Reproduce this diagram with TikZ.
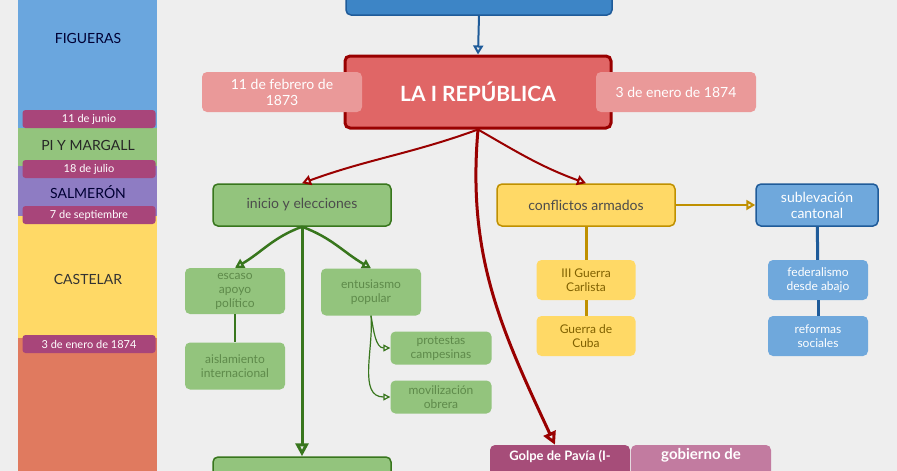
\documentclass[tikz,border=0pt]{standalone}
\usepackage{fontspec}
\setmainfont{Lato}
\usetikzlibrary{arrows.meta}
\definecolor{bg}{HTML}{EEEEEE}
\definecolor{pill}{HTML}{A8457A}
\definecolor{redf}{HTML}{E06666}
\definecolor{redd}{HTML}{990000}
\definecolor{pink}{HTML}{EA9999}
\definecolor{gf}{HTML}{93C47D}
\definecolor{gd}{HTML}{38761D}
\definecolor{gt}{HTML}{5E8A4A}
\definecolor{yf}{HTML}{FFD966}
\definecolor{yd}{HTML}{BF9000}
\definecolor{yt}{HTML}{7F6000}
\definecolor{bf}{HTML}{6FA8DC}
\definecolor{bd}{HTML}{1F5B99}
\definecolor{colblue}{HTML}{6AA6DE}
\definecolor{colpurp}{HTML}{8E7CC3}
\definecolor{colorr}{HTML}{E07A5F}
\definecolor{topb}{HTML}{3D85C6}
\definecolor{golc}{HTML}{A64D79}
\definecolor{gobc}{HTML}{C27BA0}
\begin{document}
\begin{tikzpicture}[x=1pt,y=-1pt,
 box/.style={rounded corners=5pt,inner sep=0pt,align=center},
 tri/.style={-{Triangle[open,length=9pt,width=10pt]}},
 trib/.style={-{Triangle[open,length=13pt,width=13pt]}},
 tris/.style={-{Triangle[open,length=7pt,width=7pt]}}]
\fill[bg] (0,0) rectangle (897,471);
\useasboundingbox (0,0) rectangle (897,471);
% left column
\fill[colblue] (18,0) rectangle (157,128);
\fill[gf] (18,128) rectangle (157,166);
\fill[colpurp] (18,166) rectangle (157,216);
\fill[yf] (18,216) rectangle (157,338);
\fill[colorr] (18,338) rectangle (157,471);
\node (fig) at (88,38) {\fontsize{14}{16}\selectfont\color{black!80!blue}FIGUERAS};
\node (pim) at (88,145) {\fontsize{14}{16}\selectfont\color{black!85}PI Y MARGALL};
\node (sal) at (88,192) {\fontsize{14}{16}\selectfont\color{black!80!blue}SALMERÓN};
\node (cas) at (88,279) {\fontsize{14}{16}\selectfont\color{black!80}CASTELAR};
\foreach \n/\y/\t in {p1/119/11 de junio,p2/169/18 de julio,p3/215/7 de septiembre,p4/344/3 de enero de 1874}
 \node[fill=pill,rounded corners=3pt,minimum width=133pt,minimum height=18pt,inner sep=0pt,text=white,font=\fontsize{11}{12}\selectfont] (\n) at (89,\y) {\t};
% top
\node[box,fill=topb,draw=bd,line width=1.5pt,minimum width=266pt,minimum height=30pt] (top) at (479,0) {};
\node[box,fill=redf,draw=redd,line width=3pt,minimum width=266pt,minimum height=72pt,text=white,font=\fontsize{21}{24}\selectfont\bfseries] (main) at (478,92) {LA I REPÚBLICA};
\node[box,fill=pink,minimum width=160pt,minimum height=40pt,text=white,font=\fontsize{14}{16}\selectfont] (d1) at (282,92) {11 de febrero de\\1873};
\node[box,fill=pink,minimum width=160pt,minimum height=40pt,text=white,font=\fontsize{14}{16}\selectfont] (d2) at (676,92) {3 de enero de 1874};
\draw[tri,bd,line width=2pt] (top.south) -- (main.north);
% level 2
\node[box,fill=gf,draw=gd,line width=1.5pt,minimum width=178pt,minimum height=42pt,text=black!70,font=\fontsize{14}{16}\selectfont] (ini) at (302,205) {inicio y elecciones};
\node[box,fill=yf,draw=yd,line width=1.5pt,minimum width=178pt,minimum height=42pt,text=black!70,font=\fontsize{14}{16}\selectfont] (con) at (586,205) {conflictos armados};
\node[box,fill=bf,draw=bd,line width=1.5pt,minimum width=122pt,minimum height=42pt,text=white,font=\fontsize{14}{16}\selectfont] (sub) at (817,205) {sublevación\\cantonal};
\draw[tri,redd,line width=2pt] (main.south) to[out=200,in=20] (ini.north);
\draw[tri,redd,line width=2pt] (main.south) to[out=-30,in=160] (con.north);
% small boxes
\tikzset{sg/.style={box,fill=gf,minimum width=100pt,text=gt,font=\fontsize{12}{14}\selectfont},
 sy/.style={box,fill=yf,minimum width=99pt,minimum height=40pt,text=yt,font=\fontsize{12}{14}\selectfont},
 sb/.style={box,fill=bf,minimum width=100pt,minimum height=40pt,text=white,font=\fontsize{12}{14}\selectfont}}
\node[sg,minimum height=46pt] (esc) at (235,291) {escaso\\apoyo\\político};
\node[sg,minimum height=47pt] (ais) at (235,366) {aislamiento\\internacional};
\node[sg,minimum height=47pt] (ent) at (371,292) {entusiasmo\\popular};
\node[sg,minimum width=101pt,minimum height=33pt] (pro) at (441,348) {protestas\\campesinas};
\node[sg,minimum width=101pt,minimum height=33pt] (mov) at (441,397) {movilización\\obrera};
\node[sy] (car) at (586,280) {III Guerra\\Carlista};
\node[sy] (cub) at (586,336) {Guerra de\\Cuba};
\node[sb] (fed) at (818,280) {federalismo\\desde abajo};
\node[sb] (ref) at (818,336) {reformas\\sociales};
\node[box,fill=gf,draw=gd,line width=1.5pt,minimum width=178pt,minimum height=30pt] (bot) at (302,472) {};
\node[box,fill=golc,minimum width=140pt,minimum height=40pt,text=white,font=\fontsize{13}{15}\selectfont\bfseries] (gol) at (560,465) {Golpe de Pavía (I-\\ \strut};
\node[box,fill=gobc,minimum width=140pt,minimum height=40pt,text=white,font=\fontsize{15}{17}\selectfont\bfseries] (gob) at (701,465) {gobierno de\\ \strut};
% connectors
\draw[tri,gd,line width=2.5pt] (ini.south) to[out=200,in=30] (esc.north);
\draw[tri,gd,line width=2.5pt] (ini.south) to[out=-20,in=150] (ent.north);
\draw[trib,gd,line width=3pt] (ini.south) -- (bot.north);
\draw[gd,line width=2.5pt] (esc) -- (ais);
\draw[tris,gd,line width=1.2pt] (ent.south) to[out=-80,in=180] (pro.west);
\draw[tris,gd,line width=1.2pt] (ent.south) to[out=-85,in=180] (mov.west);
\draw[trib,redd,line width=3pt] (main.south) to[out=-95,in=115] (gol.north -| 555,0);
\draw[tri,yd,line width=2pt] (con) -- (sub);
\draw[yd,line width=3pt] (con) -- (car);
\draw[yd,line width=3pt] (car) -- (cub);
\draw[bd,line width=3pt] (sub) -- (fed);
\draw[bd,line width=3pt] (fed) -- (ref);
\end{tikzpicture}
\end{document}
